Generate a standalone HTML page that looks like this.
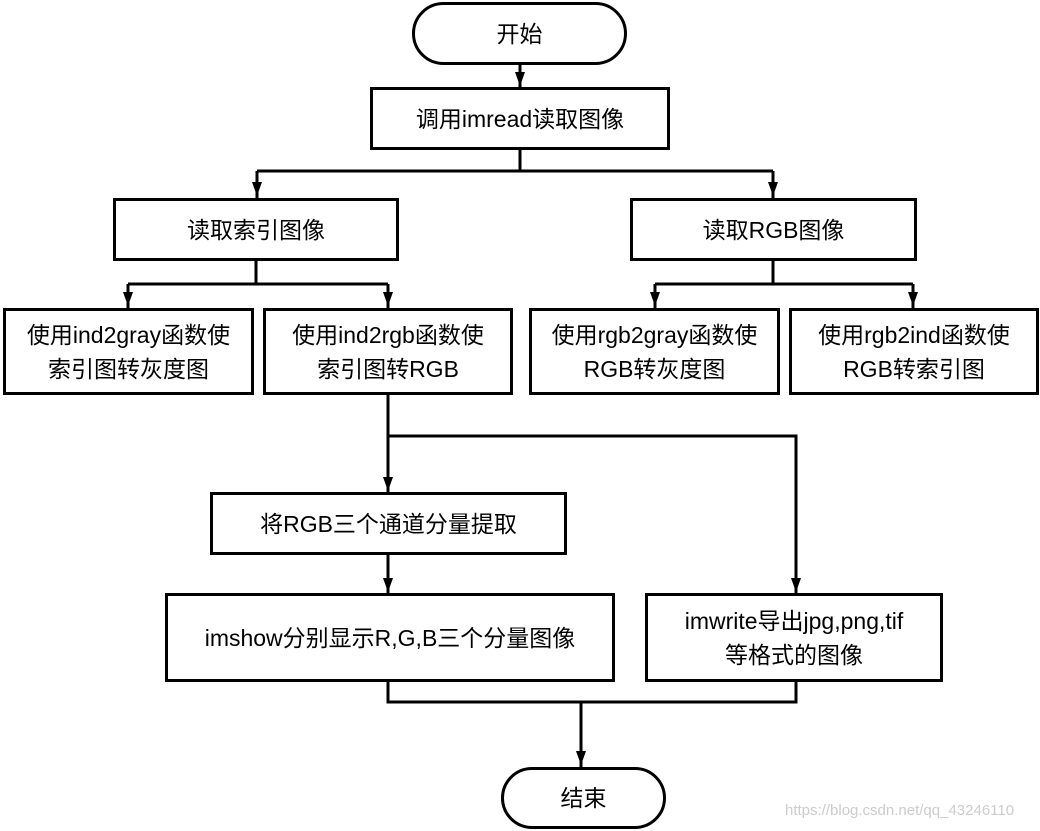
<!DOCTYPE html>
<html><head><meta charset="utf-8"><style>
body{margin:0;background:#fff;width:1040px;height:831px;overflow:hidden;position:relative;font-family:"Liberation Sans","Noto Sans CJK SC",sans-serif;}
.b{position:absolute;border:3px solid #000;box-sizing:border-box;display:flex;align-items:center;justify-content:center;text-align:center;font-size:23px;line-height:34px;color:#000;background:#fff;}
.r{border-radius:32px;}
svg{position:absolute;left:0;top:0;}
.wm{position:absolute;left:785px;top:802px;font-size:15px;color:#ccc;}
</style></head><body>
<svg width="1040" height="831">
<defs><marker id="a" markerWidth="10" markerHeight="10" refX="5" refY="9" orient="0" markerUnits="userSpaceOnUse"><path d="M0,0 L10,0 L5,12 z" fill="#000"/></marker></defs>
<g stroke="#000" stroke-width="3" fill="none">
<path d="M520,64 V87"/><path d="M515,72 h10 l-5,14 z" fill="#000" stroke="none"/>
<path d="M520,149 V171 M257,171 H773 M257,171 V198 M773,171 V198"/>
<path d="M256,260 V284 M128,284 H388 M128,284 V308 M388,284 V308"/>
<path d="M773,260 V284 M655,284 H913 M655,284 V308 M913,284 V308"/>
<path d="M388,394 V493 M388,436 H796 V594"/>
<path d="M388,554 V594"/>
<path d="M388,681 V702 H796 V681 M581,702 V767"/>
</g>
<g fill="#000">
<path d="M252,182 h10 l-5,14 z"/><path d="M768,182 h10 l-5,14 z"/>
<path d="M123,292 h10 l-5,14 z"/><path d="M383,292 h10 l-5,14 z"/>
<path d="M650,292 h10 l-5,14 z"/><path d="M908,292 h10 l-5,14 z"/>
<path d="M383,477 h10 l-5,14 z"/><path d="M791,578 h10 l-5,14 z"/>
<path d="M383,578 h10 l-5,14 z"/><path d="M576,751 h10 l-5,14 z"/>
</g>
</svg>
<div class="b r" style="left:412px;top:2px;width:215px;height:63px;">开始</div>
<div class="b" style="left:370px;top:87px;width:300px;height:63px;">调用imread读取图像</div>
<div class="b" style="left:113px;top:198px;width:286px;height:63px;">读取索引图像</div>
<div class="b" style="left:630px;top:198px;width:287px;height:63px;">读取RGB图像</div>
<div class="b" style="left:3px;top:308px;width:251px;height:87px;">使用ind2gray函数使<br>索引图转灰度图</div>
<div class="b" style="left:263px;top:308px;width:250px;height:87px;">使用ind2rgb函数使<br>索引图转RGB</div>
<div class="b" style="left:529px;top:308px;width:251px;height:87px;">使用rgb2gray函数使<br>RGB转灰度图</div>
<div class="b" style="left:789px;top:308px;width:250px;height:87px;">使用rgb2ind函数使<br>RGB转索引图</div>
<div class="b" style="left:210px;top:492px;width:357px;height:63px;">将RGB三个通道分量提取</div>
<div class="b" style="left:165px;top:593px;width:450px;height:89px;">imshow分别显示R,G,B三个分量图像</div>
<div class="b" style="left:645px;top:593px;width:298px;height:89px;">imwrite导出jpg,png,tif<br>等格式的图像</div>
<div class="b r" style="left:501px;top:767px;width:165px;height:62px;">结束</div>
<div class="wm">https://blog.csdn.net/qq_43246110</div>
</body></html>
